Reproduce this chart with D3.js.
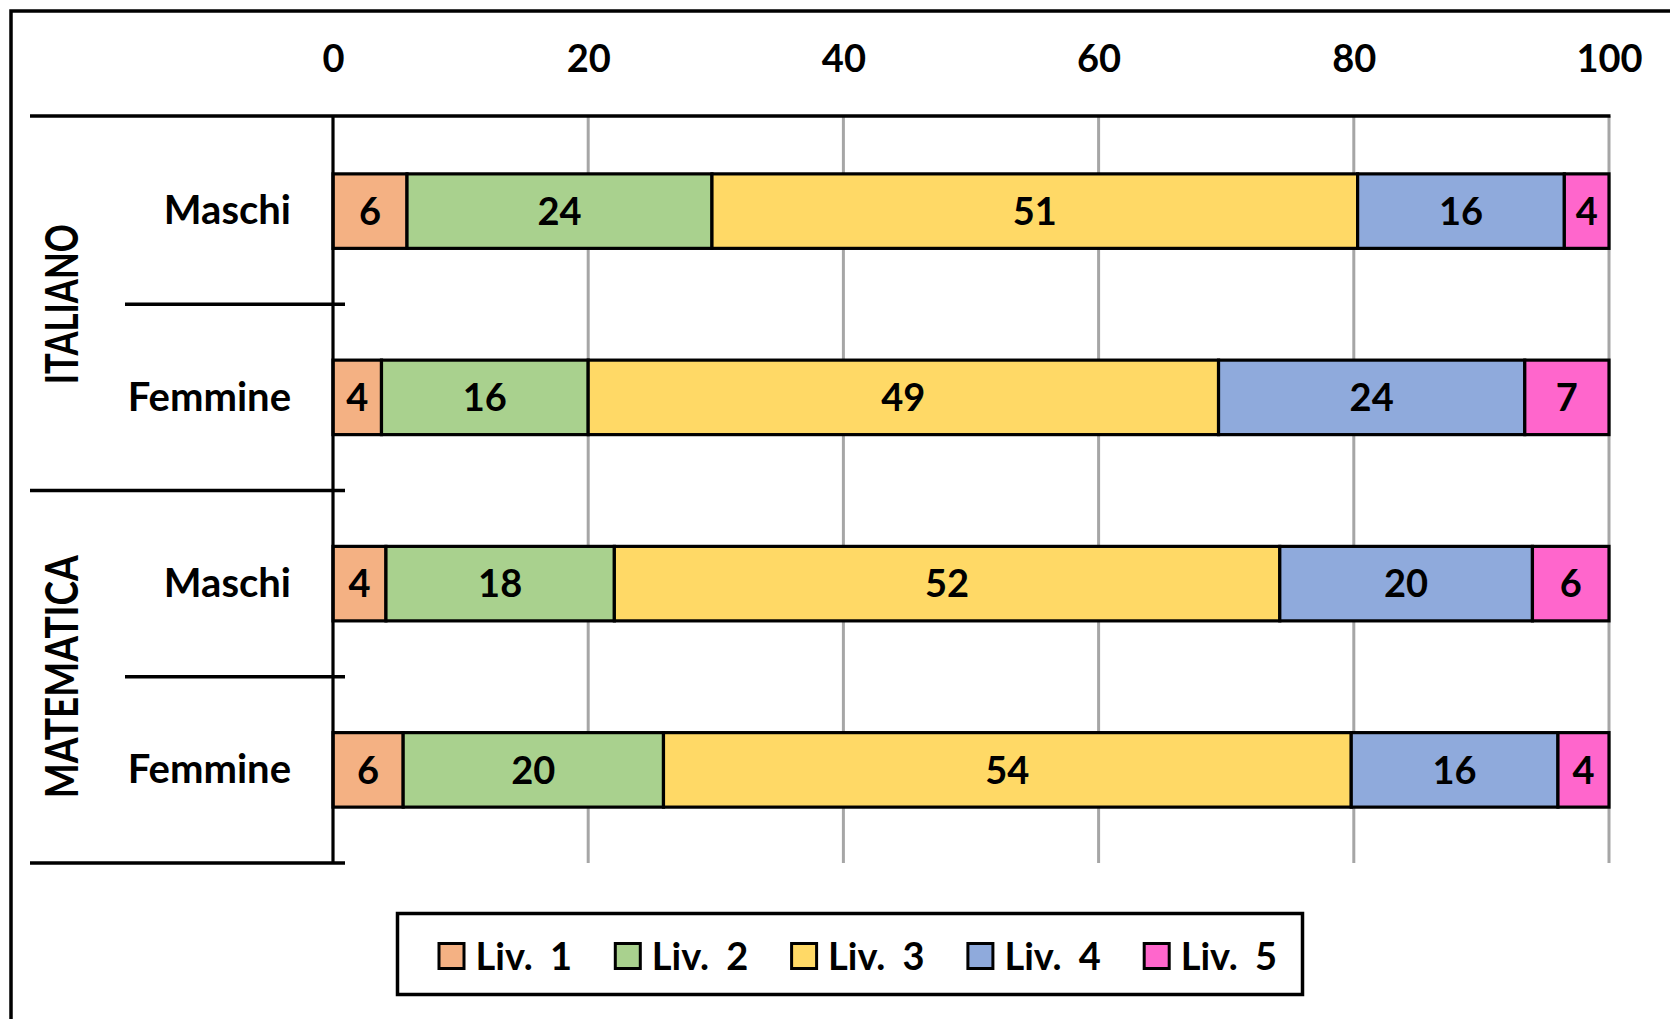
<!DOCTYPE html>
<html>
<head>
<meta charset="utf-8">
<script src="https://cdn.jsdelivr.net/npm/d3@7"></script>
<style>
  html, body { margin: 0; padding: 0; background: #fff; }
  svg { display: block; }
  text { font-family: Lato, "Open Sans", sans-serif; fill: #000; }
</style>
</head>
<body>
<svg id="chart" width="1670" height="1019"></svg>
<script>
// ---------- data ----------
const subjects = ["ITALIANO", "MATEMATICA"];
const genders = ["Maschi", "Femmine"];
const levels = ["Liv. 1", "Liv. 2", "Liv. 3", "Liv. 4", "Liv. 5"];
const levelColors = ["#f4b183", "#a9d18e", "#ffd966", "#8faadc", "#ff66cc"];
// values per row: Italiano-Maschi, Italiano-Femmine, Matematica-Maschi, Matematica-Femmine
const liv1 = [5.8, 3.8, 4.15, 5.5];
const liv2 = [23.9, 16.2, 17.9, 20.4];
const liv3 = [50.6, 49.4, 52.15, 53.9];
const liv4 = [16.2, 24.0, 19.8, 16.2];
const liv5 = [3.5, 6.6, 6.0, 4.0];
const xTicks = [0, 20, 40, 60, 80, 100];

// ---------- build table ----------
const seriesValues = [liv1, liv2, liv3, liv4, liv5];
const rows = [];
subjects.forEach(s => genders.forEach(g => rows.push({ subject: s, gender: g, key: s + "|" + g })));
rows.forEach((r, i) => levels.forEach((l, j) => { r[l] = seriesValues[j][i]; }));

const svg = d3.select("#chart");
const FONT = 38;

// outer frame (clipped at right/bottom like the reference)
svg.append("rect")
  .attr("x", 11).attr("y", 11).attr("width", 2000).attr("height", 2000)
  .attr("fill", "none").attr("stroke", "#000").attr("stroke-width", 3.5);

// ---------- scales ----------
const x = d3.scaleLinear().domain([0, 100]).range([333, 1609]);
const y = d3.scaleBand().domain(rows.map(r => r.key)).range([118, 863])
  .paddingInner(0.6).paddingOuter(0.3);
const color = d3.scaleOrdinal().domain(levels).range(levelColors);

const plotTop = 116, plotBottom = 863;

// gridlines
svg.append("g").selectAll("line")
  .data(xTicks.filter(t => t > 0))
  .join("line")
  .attr("x1", d => x(d)).attr("x2", d => x(d))
  .attr("y1", plotTop).attr("y2", plotBottom)
  .attr("stroke", "#a6a6a6").attr("stroke-width", 3);

// top axis with tick labels
const xAxis = d3.axisTop(x).tickValues(xTicks).tickSize(0).tickPadding(0).tickFormat(d3.format("d"));
const gx = svg.append("g").attr("transform", `translate(0,${plotTop})`).call(xAxis);
gx.select(".domain").remove();
gx.selectAll("text")
  .attr("y", 0).attr("dy", 0)
  .attr("transform", `translate(0,${71.5 - plotTop})`)
  .style("font-family", "Lato, sans-serif")
  .style("font-size", FONT + "px")
  .style("font-weight", "bold")
  .attr("fill", "#000")
  .attr("text-anchor", "middle");

// top horizontal axis line
svg.append("line")
  .attr("x1", 30).attr("x2", x(100) + 1.5)
  .attr("y1", plotTop).attr("y2", plotTop)
  .attr("stroke", "#000").attr("stroke-width", 3.5);

// stacked bars
const stack = d3.stack().keys(levels);
const stacked = stack(rows);
const gBars = svg.append("g");
stacked.forEach(layer => {
  const g = gBars.append("g").attr("fill", color(layer.key));
  g.selectAll("rect")
    .data(layer)
    .join("rect")
    .attr("x", d => x(d[0]))
    .attr("width", d => x(d[1]) - x(d[0]))
    .attr("y", d => y(d.data.key))
    .attr("height", y.bandwidth())
    .attr("stroke", "#000").attr("stroke-width", 3.2);
});
// data labels
stacked.forEach(layer => {
  gBars.append("g").selectAll("text")
    .data(layer)
    .join("text")
    .attr("x", d => (x(d[0]) + x(d[1])) / 2)
    .attr("y", d => y(d.data.key) + y.bandwidth() / 2)
    .attr("dy", "0.36em")
    .attr("text-anchor", "middle")
    .style("font-size", FONT + "px")
    .style("font-weight", "bold")
    .text(d => Math.round(d[1] - d[0]));
});

// vertical axis line
svg.append("line")
  .attr("x1", x(0)).attr("x2", x(0))
  .attr("y1", plotTop).attr("y2", plotBottom)
  .attr("stroke", "#000").attr("stroke-width", 3.2);

// category separators
const step = y.step();
const gap = step - y.bandwidth();
rows.forEach((r, i) => {
  const yb = y(r.key) + y.bandwidth() + gap / 2;
  const isGroupEnd = (i === rows.length - 1) || rows[i + 1].subject !== r.subject;
  svg.append("line")
    .attr("x1", isGroupEnd ? 30 : 125).attr("x2", 345)
    .attr("y1", yb).attr("y2", yb)
    .attr("stroke", "#000").attr("stroke-width", 3.5);
});

// category labels
svg.append("g").selectAll("text")
  .data(rows)
  .join("text")
  .attr("x", 291)
  .attr("y", d => y(d.key) + y.bandwidth() / 2)
  .attr("dy", "0.33em")
  .attr("text-anchor", "end")
  .style("font-size", "40px")
  .style("font-weight", "bold")
  .text(d => d.gender);

// subject (group) labels
const groupLen = { "ITALIANO": 160, "MATEMATICA": 243 };
subjects.forEach(s => {
  const rs = rows.filter(r => r.subject === s);
  const top = y(rs[0].key) - gap / 2;
  const bot = y(rs[rs.length - 1].key) + y.bandwidth() + gap / 2;
  const cy = (top + bot) / 2;
  svg.append("text")
    .attr("transform", `translate(78,${cy}) rotate(-90)`)
    .attr("text-anchor", "middle")
    .attr("textLength", groupLen[s])
    .attr("lengthAdjust", "spacingAndGlyphs")
    .style("font-size", "45px")
    .style("font-weight", "bold")
    .text(s);
});

// legend
const legend = svg.append("g");
legend.append("rect")
  .attr("x", 397.5).attr("y", 913.5).attr("width", 905).attr("height", 81)
  .attr("fill", "#fff").attr("stroke", "#000").attr("stroke-width", 3.5);
const lx = d3.scalePoint().domain(levels).range([437.5, 1142.7]);
const items = legend.selectAll("g.item").data(levels).join("g").attr("class", "item")
  .attr("transform", d => `translate(${lx(d)},0)`);
items.append("rect")
  .attr("x", 1.5).attr("y", 943.5).attr("width", 25).attr("height", 25)
  .attr("fill", d => color(d)).attr("stroke", "#000").attr("stroke-width", 3);
items.append("text")
  .attr("x", 38).attr("y", 970)
  .style("font-size", FONT + "px")
  .style("font-weight", "bold")
  .style("word-spacing", "8px")
  .text(d => d);
</script>
</body>
</html>
